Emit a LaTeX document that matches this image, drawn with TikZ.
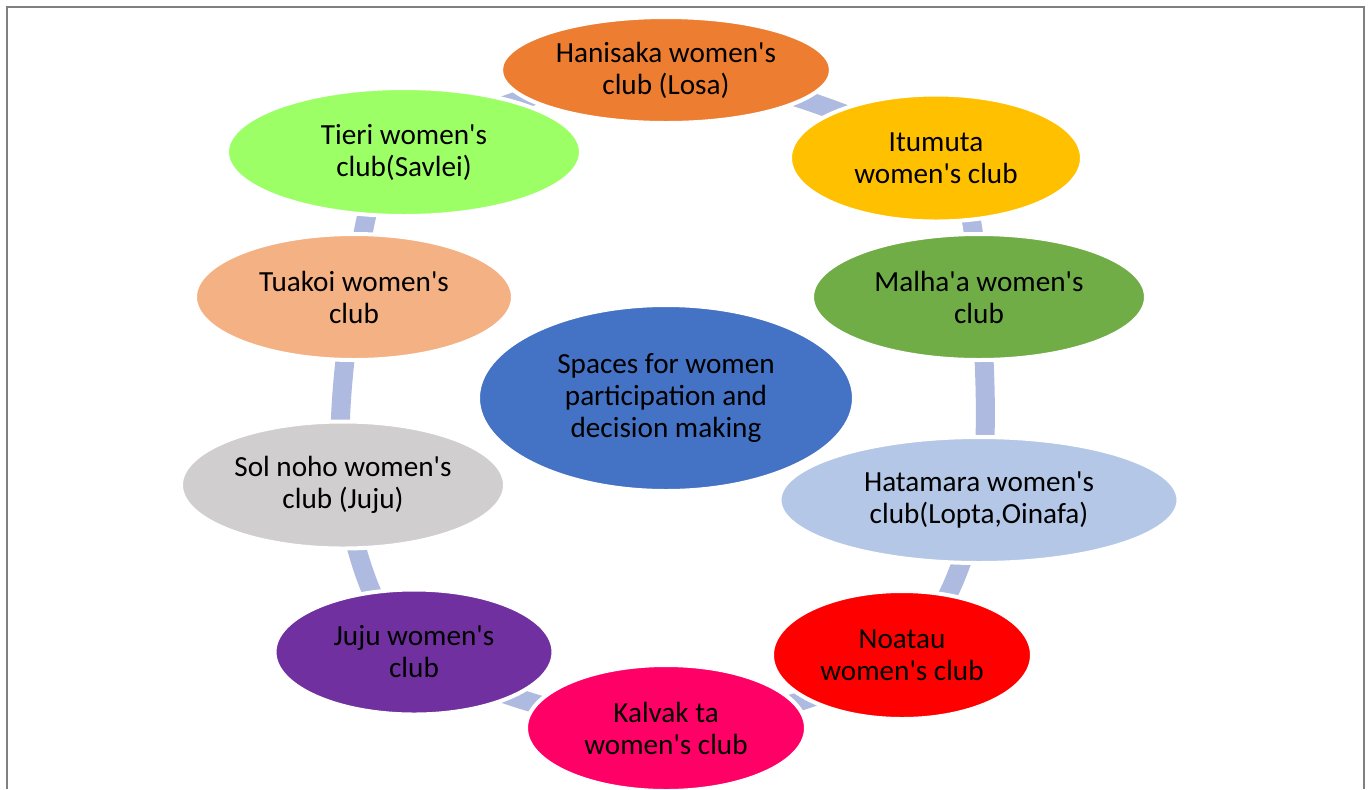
\documentclass[tikz,border=0pt]{standalone}
\usepackage{fontspec}
\setmainfont{Carlito}[Ligatures=TeXOff]
\usetikzlibrary{shapes.geometric,backgrounds}
\definecolor{ringblue}{RGB}{174,186,224}
\definecolor{framegray}{RGB}{128,128,128}
\definecolor{hanisakac}{RGB}{237,125,49}
\definecolor{itumutac}{RGB}{255,192,0}
\definecolor{malhaac}{RGB}{112,173,71}
\definecolor{hatamarac}{RGB}{180,199,231}
\definecolor{noatauc}{RGB}{255,0,0}
\definecolor{kalvakc}{RGB}{255,0,102}
\definecolor{jujuc}{RGB}{112,48,160}
\definecolor{solnohoc}{RGB}{208,206,206}
\definecolor{tuakoic}{RGB}{244,177,131}
\definecolor{tieric}{RGB}{156,255,102}
\definecolor{spacesc}{RGB}{68,114,196}
\begin{document}
\begin{tikzpicture}
[x=0.5pt,y=-0.5pt,
club/.style={shape=ellipse,draw=white,line width=2pt,inner sep=0pt,align=center,
  font=\fontsize{14.6pt}{16pt}\selectfont},
dims/.style 2 args={minimum width=#1*0.5pt+2pt,minimum height=#2*0.5pt+2pt},
ring/.style={ringblue,line width=9.5pt},
frame/.style={framegray,line width=1pt}]
\useasboundingbox (0,0) rectangle (1372,789);
% page frame
\draw[frame] (7,789) -- (7,7) -- (1364,7) -- (1364,789);

% clubs round the cycle
\node[club,fill=tieric,dims={350}{124}] (tieri) at (404,152) {Tieri women's\\club(Savlei)};
\node[club,fill=hanisakac,dims={326}{102}] (hanisaka) at (666,70) {Hanisaka women's\\club (Losa)};
\node[club,fill=itumutac,dims={288}{123}] (itumuta) at (936,158) {Itumuta\\women's club};
\node[club,fill=malhaac,dims={330}{122}] (malhaa) at (979,297) {Malha'a women's\\club};
\node[club,fill=hatamarac,dims={395}{122}] (hatamara) at (979,500) {Hatamara women's\\club(Lopta,Oinafa)};
\node[club,fill=noatauc,dims={256}{124}] (noatau) at (902,655) {Noatau\\women's club};
\node[club,fill=kalvakc,dims={276}{122}] (kalvak) at (666,728) {Kalvak ta\\women's club};
\node[club,fill=jujuc,dims={275}{121}] (juju) at (414,652) {Juju women's\\club};
\node[club,fill=solnohoc,dims={320}{123}] (solnoho) at (343,485) {Sol noho women's\\club (Juju)};
\node[club,fill=tuakoic,dims={314}{122}] (tuakoi) at (354,297) {Tuakoi women's\\club};

% centre
\node[club,fill=spacesc,dims={372}{182}] (spaces) at (666,398) {Spaces for women\\participation and\\decision making};

% ring behind the clubs
\begin{scope}[on background layer]
\draw[ring] plot[smooth cycle] coordinates {(hanisaka.center) (itumuta.center) (malhaa.center)
  (hatamara.center) (noatau.center) (kalvak.center) (juju.center) (solnoho.center)
  (tuakoi.center) (tieri.center)};
\end{scope}
\end{tikzpicture}
\end{document}
